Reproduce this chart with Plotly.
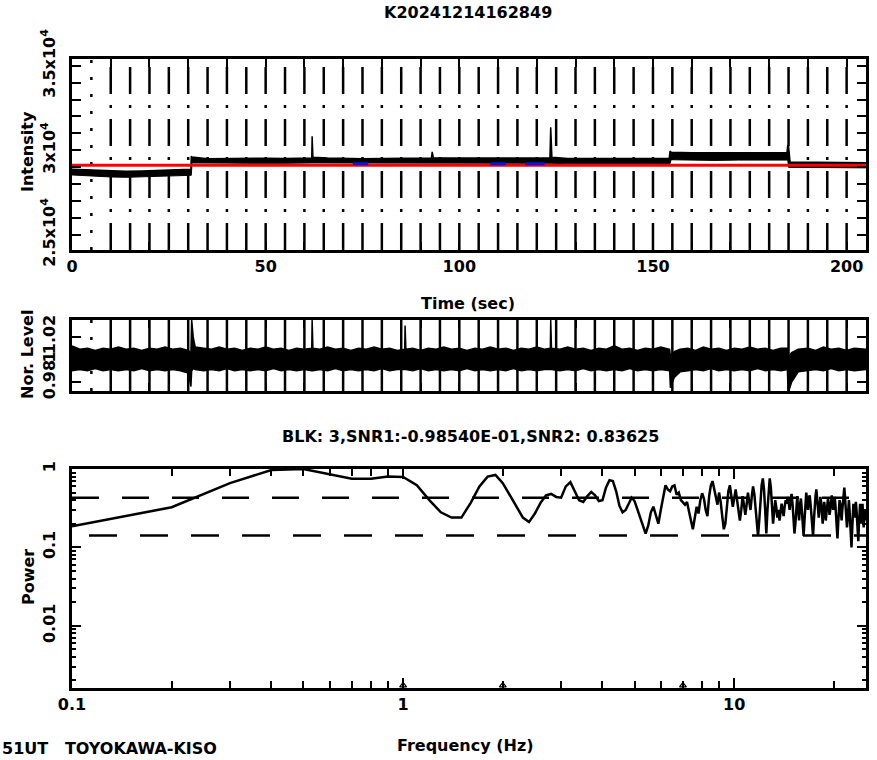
import math
import plotly.graph_objects as go

# ---------------- data ----------------
TITLE = "K20241214162849"
SUBTITLE = "BLK: 3,SNR1:-0.98540E-01,SNR2: 0.83625"
FOOTER = "51UT   TOYOKAWA-KISO"

# top panel: intensity envelope (time s, upper, lower)
INT_T = [0, 3, 6, 10, 14, 18, 22, 26, 30.7, 30.8, 31.0, 35, 40, 45, 50, 55, 61.9, 62.0, 62.2,
         66, 70, 75, 80, 85, 92.8, 93.0, 93.3, 98, 104, 110, 116, 123.4, 123.6, 123.9,
         128, 134, 140, 146, 154.2, 154.4, 154.7, 160, 166, 172, 178, 184.6, 184.8, 185.0,
         185.4, 190, 196, 200, 205]
INT_HI = [28880, 28850, 28830, 28780, 28760, 28780, 28810, 28840, 28880, 29650, 29600, 29500,
          29520, 29510, 29530, 29520, 29540, 30830, 29580, 29540, 29520, 29500, 29520, 29540,
          29540, 29900, 29560, 29540, 29540, 29550, 29540, 29540, 31360, 29580, 29520, 29510,
          29520, 29510, 29520, 29950, 29880, 29860, 29850, 29860, 29850, 29860, 30300, 30250,
          29300, 29280, 29260, 29270, 29260]
INT_LO = [28540, 28500, 28470, 28420, 28400, 28420, 28460, 28490, 28520, 28520, 29250, 29230,
          29240, 29230, 29250, 29230, 29250, 29250, 29250, 29250, 29230, 29210, 29230, 29240,
          29230, 29230, 29230, 29230, 29240, 29230, 29230, 29230, 29230, 29230, 29200, 29190,
          29200, 29200, 29210, 29210, 29440, 29420, 29400, 29420, 29410, 29420, 29420, 28990,
          28990, 28970, 28960, 28970, 28960]
MEAN_LEVEL = 29110
BLUE_T0 = [72.5, 108, 117]
BLUE_T1 = [76.5, 112, 122]
BLUE_LEVEL = 29200

# middle panel: normalised level envelope
NOR_T = [0, 2, 4, 6, 8, 10, 12, 14, 16, 18, 20, 22, 24, 26, 28, 30.0, 30.7, 30.9, 31.3, 31.8,
         34, 36, 38, 40, 42, 44, 46, 48, 50, 52, 54, 56, 58, 60, 61.9, 62.0, 62.2, 64, 66, 68,
         70, 72, 74, 76, 78, 80, 82, 84, 85.9, 86.0, 86.2, 88, 90, 92, 94, 96, 98, 100, 102,
         104, 106, 108, 110, 112, 114, 116, 118, 120, 122, 123.5, 123.6, 123.8, 126, 128, 130,
         132, 134, 136, 138, 140, 142, 144, 146, 148, 150, 152, 154.3, 154.5, 155.5, 157, 159,
         161, 163, 165, 167, 169, 171, 173, 175, 177, 179, 181, 183, 184.7, 184.9, 185.8,
         187.5, 190, 192, 194, 196, 198, 200, 202, 205]
NOR_HI = [1.012, 1.009, 1.010, 1.008, 1.010, 1.009, 1.011, 1.009, 1.010, 1.008, 1.010, 1.009,
          1.011, 1.009, 1.010, 1.008, 1.006, 1.035, 1.020, 1.011, 1.010, 1.009, 1.011, 1.009,
          1.010, 1.008, 1.010, 1.009, 1.011, 1.009, 1.010, 1.008, 1.010, 1.009, 1.010, 1.035,
          1.010, 1.009, 1.011, 1.009, 1.010, 1.008, 1.010, 1.009, 1.011, 1.009, 1.010, 1.008,
          1.009, 1.030, 1.009, 1.010, 1.008, 1.010, 1.009, 1.011, 1.009, 1.010, 1.008, 1.010,
          1.009, 1.011, 1.009, 1.010, 1.008, 1.010, 1.009, 1.011, 1.009, 1.010, 1.035, 1.010,
          1.009, 1.011, 1.009, 1.010, 1.008, 1.010, 1.009, 1.012, 1.009, 1.010, 1.008, 1.010,
          1.009, 1.011, 1.009, 1.003, 1.007, 1.009, 1.010, 1.008, 1.011, 1.009, 1.010, 1.008,
          1.010, 1.009, 1.011, 1.009, 1.010, 1.008, 1.010, 1.010, 1.002, 1.006, 1.009, 1.010,
          1.008, 1.011, 1.009, 1.010, 1.008, 1.010, 1.009]
NOR_LO = [0.990, 0.991, 0.990, 0.992, 0.990, 0.991, 0.990, 0.991, 0.990, 0.992, 0.990, 0.991,
          0.990, 0.991, 0.990, 0.988, 0.976, 0.990, 0.992, 0.991, 0.990, 0.991, 0.990, 0.992,
          0.990, 0.991, 0.990, 0.991, 0.990, 0.992, 0.990, 0.991, 0.990, 0.991, 0.990, 0.990,
          0.990, 0.991, 0.990, 0.992, 0.990, 0.991, 0.990, 0.991, 0.990, 0.992, 0.990, 0.991,
          0.991, 0.991, 0.991, 0.990, 0.992, 0.990, 0.991, 0.990, 0.991, 0.990, 0.992, 0.990,
          0.991, 0.990, 0.991, 0.990, 0.992, 0.990, 0.991, 0.990, 0.991, 0.991, 0.991, 0.991,
          0.990, 0.991, 0.990, 0.992, 0.990, 0.991, 0.990, 0.991, 0.990, 0.992, 0.990, 0.991,
          0.990, 0.991, 0.990, 0.975, 0.984, 0.989, 0.990, 0.991, 0.990, 0.992, 0.990, 0.991,
          0.990, 0.991, 0.990, 0.992, 0.990, 0.991, 0.990, 0.991, 0.970, 0.980, 0.989, 0.990,
          0.991, 0.990, 0.992, 0.990, 0.991, 0.990, 0.991]

# bottom panel: power spectrum, 0.1 Hz resolution
FREQ = [round(0.1 * i, 1) for i in range(1, 251)]
POWER = [
    0.186, 0.325, 0.66, 0.97, 1.0, 0.86, 0.75, 0.75, 0.80, 0.79,
    0.62, 0.40, 0.28, 0.24, 0.24, 0.37, 0.60, 0.80, 0.84, 0.66,
    0.46, 0.33, 0.24, 0.21, 0.27, 0.37, 0.46, 0.48, 0.44, 0.43,
    0.60, 0.68, 0.52, 0.40, 0.38, 0.45, 0.51, 0.46, 0.39, 0.40,
    0.58, 0.72, 0.70, 0.52, 0.34, 0.28, 0.30, 0.37, 0.43, 0.39,
    0.30, 0.24, 0.19, 0.15, 0.19, 0.28, 0.33, 0.26, 0.20, 0.30,
    0.46, 0.62, 0.55, 0.52, 0.60, 0.62, 0.47, 0.50, 0.40, 0.37,
    0.35, 0.38, 0.30, 0.22, 0.17, 0.25, 0.33, 0.27, 0.40, 0.49,
    0.42, 0.30, 0.25, 0.45, 0.62, 0.70, 0.55, 0.42, 0.35, 0.50,
    0.38, 0.25, 0.17, 0.20, 0.35, 0.52, 0.62, 0.45, 0.33, 0.42,
    0.55, 0.40, 0.28, 0.22, 0.30, 0.45, 0.35, 0.26, 0.35, 0.50,
    0.38, 0.30, 0.45, 0.60, 0.48, 0.30, 0.18, 0.14, 0.22, 0.40,
    0.62, 0.76, 0.55, 0.30, 0.15, 0.30, 0.60, 0.76, 0.58, 0.30,
    0.20, 0.28, 0.40, 0.32, 0.24, 0.30, 0.22, 0.28, 0.36, 0.30,
    0.25, 0.33, 0.40, 0.36, 0.44, 0.38, 0.30, 0.40, 0.48, 0.36,
    0.24, 0.15, 0.20, 0.34, 0.45, 0.30, 0.22, 0.35, 0.42, 0.30,
    0.20, 0.14, 0.22, 0.40, 0.50, 0.40, 0.30, 0.42, 0.46, 0.36,
    0.26, 0.18, 0.14, 0.22, 0.36, 0.45, 0.55, 0.42, 0.30, 0.24,
    0.32, 0.44, 0.38, 0.28, 0.20, 0.30, 0.38, 0.30, 0.22, 0.28,
    0.36, 0.42, 0.34, 0.26, 0.30, 0.38, 0.46, 0.40, 0.30, 0.36,
    0.44, 0.36, 0.26, 0.18, 0.13, 0.20, 0.30, 0.40, 0.36, 0.28,
    0.22, 0.30, 0.38, 0.46, 0.58, 0.44, 0.32, 0.24, 0.18, 0.22,
    0.32, 0.40, 0.30, 0.20, 0.12, 0.10, 0.16, 0.26, 0.36, 0.30,
    0.24, 0.32, 0.38, 0.30, 0.22, 0.16, 0.12, 0.20, 0.30, 0.36,
    0.28, 0.20, 0.28, 0.36, 0.26, 0.18, 0.24, 0.30, 0.22, 0.26,
]
CONF_LEVELS = [0.43, 0.142]
MARK_F = [1, 2, 7]

T_RANGE = [0, 205]
INT_RANGE = [24100, 35400]
NOR_RANGE = [0.972, 1.035]
F_RANGE = [0.1, 25]
P_RANGE = [0.0016, 1.0]

# ---------------- figure ----------------
W, H = 877, 760
FONT = "DejaVu Sans"
fig = go.Figure()


def px_x(p):
    return p / W


def px_y(p):
    return 1 - p / H


XDOM = [px_x(72), px_x(866)]
TOP_DOM = [px_y(250), px_y(59)]
MID_DOM = [px_y(391), px_y(320)]
BOT_DOM = [px_y(688), px_y(469)]

# top panel envelope
fig.add_trace(go.Scatter(x=INT_T, y=INT_LO, mode="lines", line=dict(color="black", width=1),
                         xaxis="x", yaxis="y", hoverinfo="skip"))
fig.add_trace(go.Scatter(x=INT_T, y=INT_HI, mode="lines", line=dict(color="black", width=1.5),
                         fill="tonexty", fillcolor="black", xaxis="x", yaxis="y", hoverinfo="skip"))
fig.add_trace(go.Scatter(x=T_RANGE, y=[MEAN_LEVEL, MEAN_LEVEL], mode="lines",
                         line=dict(color="#ff0000", width=3), xaxis="x", yaxis="y",
                         hoverinfo="skip"))
bx, by = [], []
for a, b in zip(BLUE_T0, BLUE_T1):
    bx += [a, b, None]
    by += [BLUE_LEVEL, BLUE_LEVEL, None]
fig.add_trace(go.Scatter(x=bx, y=by, mode="lines", line=dict(color="#1010e0", width=3),
                         xaxis="x", yaxis="y", hoverinfo="skip"))

# middle panel envelope
fig.add_trace(go.Scatter(x=NOR_T, y=NOR_LO, mode="lines", line=dict(color="black", width=1.5),
                         xaxis="x2", yaxis="y2", hoverinfo="skip"))
fig.add_trace(go.Scatter(x=NOR_T, y=NOR_HI, mode="lines", line=dict(color="black", width=1.5),
                         fill="tonexty", fillcolor="black", xaxis="x2", yaxis="y2", hoverinfo="skip"))

# bottom panel
fig.add_trace(go.Scatter(x=FREQ, y=POWER, mode="lines", line=dict(color="black", width=2.5),
                         xaxis="x3", yaxis="y3", hoverinfo="skip"))
fig.add_trace(go.Scatter(x=F_RANGE, y=[CONF_LEVELS[0]] * 2, mode="lines",
                         line=dict(color="black", width=2.5, dash="27px,23px"),
                         xaxis="x3", yaxis="y3", hoverinfo="skip"))
fig.add_trace(go.Scatter(x=F_RANGE, y=[CONF_LEVELS[1]] * 2, mode="lines",
                         line=dict(color="black", width=2.5, dash="0px,17px,28px,6px"),
                         xaxis="x3", yaxis="y3", hoverinfo="skip"))
fig.add_trace(go.Scatter(x=MARK_F, y=[P_RANGE[0] * 1.08] * len(MARK_F), mode="markers",
                         marker=dict(symbol="triangle-up-open", size=6, color="black",
                                     line=dict(width=1.2)),
                         xaxis="x3", yaxis="y3", cliponaxis=False, hoverinfo="skip"))

# vertical event lines every 5 s
shapes = []
for t in range(5, 205, 5):
    dtop = "3px,14px" if t == 5 else "27px,11px,3px,11px"
    dmid = "3px,14px" if t == 5 else "solid"
    shapes.append(dict(type="line", xref="x", yref="y domain", x0=t, x1=t, y0=0, y1=1,
                       line=dict(color="black", width=2.5, dash=dtop), layer="below"))
    shapes.append(dict(type="line", xref="x2", yref="y2 domain", x0=t, x1=t, y0=0, y1=1,
                       line=dict(color="black", width=2.5, dash=dmid), layer="below"))

FS = 16
tickfont = dict(family=FONT, size=FS, color="black", weight="bold")
common = dict(showline=True, linecolor="black", linewidth=3, mirror="allticks",
              ticks="inside", tickcolor="black", tickwidth=2, showgrid=False,
              zeroline=False, automargin=False, tickfont=tickfont)


def minor(vals, ln):
    return dict(tickvals=vals, ticks="inside", ticklen=ln, tickwidth=2, tickcolor="black",
                showgrid=False)


T_MAJOR = [0, 50, 100, 150, 200]
T_MINOR = [v for v in range(10, 210, 10) if v % 50]
I_MAJOR = [25000, 30000, 35000]
I_TEXT = ["2.5x10<sup>4</sup>", "3x10<sup>4</sup>", "3.5x10<sup>4</sup>"]
I_MINOR = [v for v in range(25000, 36000, 1000) if v % 5000]

fig.update_layout(
    width=W, height=H, margin=dict(l=0, r=0, t=0, b=0),
    paper_bgcolor="white", plot_bgcolor="white", showlegend=False,
    shapes=shapes,
    xaxis=dict(domain=XDOM, range=T_RANGE, anchor="y", tickvals=T_MAJOR,
               ticktext=[str(v) for v in T_MAJOR], ticklen=8, minor=minor(T_MINOR, 8), **common),
    yaxis=dict(domain=TOP_DOM, range=INT_RANGE, anchor="x", tickvals=I_MAJOR, ticktext=I_TEXT,
               tickangle=-90, ticklen=9, ticklabelstandoff=8, minor=minor(I_MINOR, 9), **common),
    xaxis2=dict(domain=XDOM, range=T_RANGE, anchor="y2", tickvals=list(range(0, 210, 10)),
                showticklabels=False, ticklen=8, **common),
    yaxis2=dict(domain=MID_DOM, range=NOR_RANGE, anchor="x2", tickvals=[0.98, 1.0, 1.02],
                ticktext=["0.98", "1", "1.02"], tickangle=-90, ticklen=9,
                ticklabelstandoff=8, **common),
    xaxis3=dict(domain=XDOM, type="log", range=[math.log10(F_RANGE[0]), math.log10(F_RANGE[1])],
                anchor="y3", tickvals=[0.1, 1, 10], ticktext=["0.1", "1", "10"], ticklen=10,
                minor=minor([0.2, 0.3, 0.4, 0.5, 0.6, 0.7, 0.8, 0.9, 2, 3, 4, 5, 6, 7, 8, 9, 20], 7),
                **common),
    yaxis3=dict(domain=BOT_DOM, type="log", range=[math.log10(P_RANGE[0]), math.log10(P_RANGE[1])],
                anchor="x3", tickvals=[0.01, 0.1, 1], ticktext=["0.01", "0.1", "1"],
                tickangle=-90, ticklen=9, ticklabelstandoff=8,
                minor=minor([0.002, 0.003, 0.004, 0.005, 0.006, 0.007, 0.008, 0.009,
                             0.02, 0.03, 0.04, 0.05, 0.06, 0.07, 0.08, 0.09,
                             0.2, 0.3, 0.4, 0.5, 0.6, 0.7, 0.8, 0.9], 4),
                **common),
)

lab = dict(family=FONT, size=FS, color="black", weight="bold")
ann = [
    dict(text=TITLE, x=px_x(468), y=px_y(12)),
    dict(text="Intensity", x=px_x(28), y=px_y(152), textangle=-90),
    dict(text="Time (sec)", x=px_x(468), y=px_y(303)),
    dict(text="Nor. Level", x=px_x(28), y=px_y(355), textangle=-90),
    dict(text=SUBTITLE, x=px_x(470), y=px_y(436)),
    dict(text="Power", x=px_x(28), y=px_y(577), textangle=-90),
    dict(text="Frequency (Hz)", x=px_x(465), y=px_y(745)),
]
for a in ann:
    fig.add_annotation(xref="paper", yref="paper", showarrow=False, xanchor="center",
                       yanchor="middle", font=lab, **a)
fig.add_annotation(text=FOOTER, xref="paper", yref="paper", x=0, y=px_y(748), xanchor="left",
                   yanchor="middle", showarrow=False, font=lab)

fig.write_html("out.html", config={"displayModeBar": False},
               post_script="document.body.style.margin='0';")
